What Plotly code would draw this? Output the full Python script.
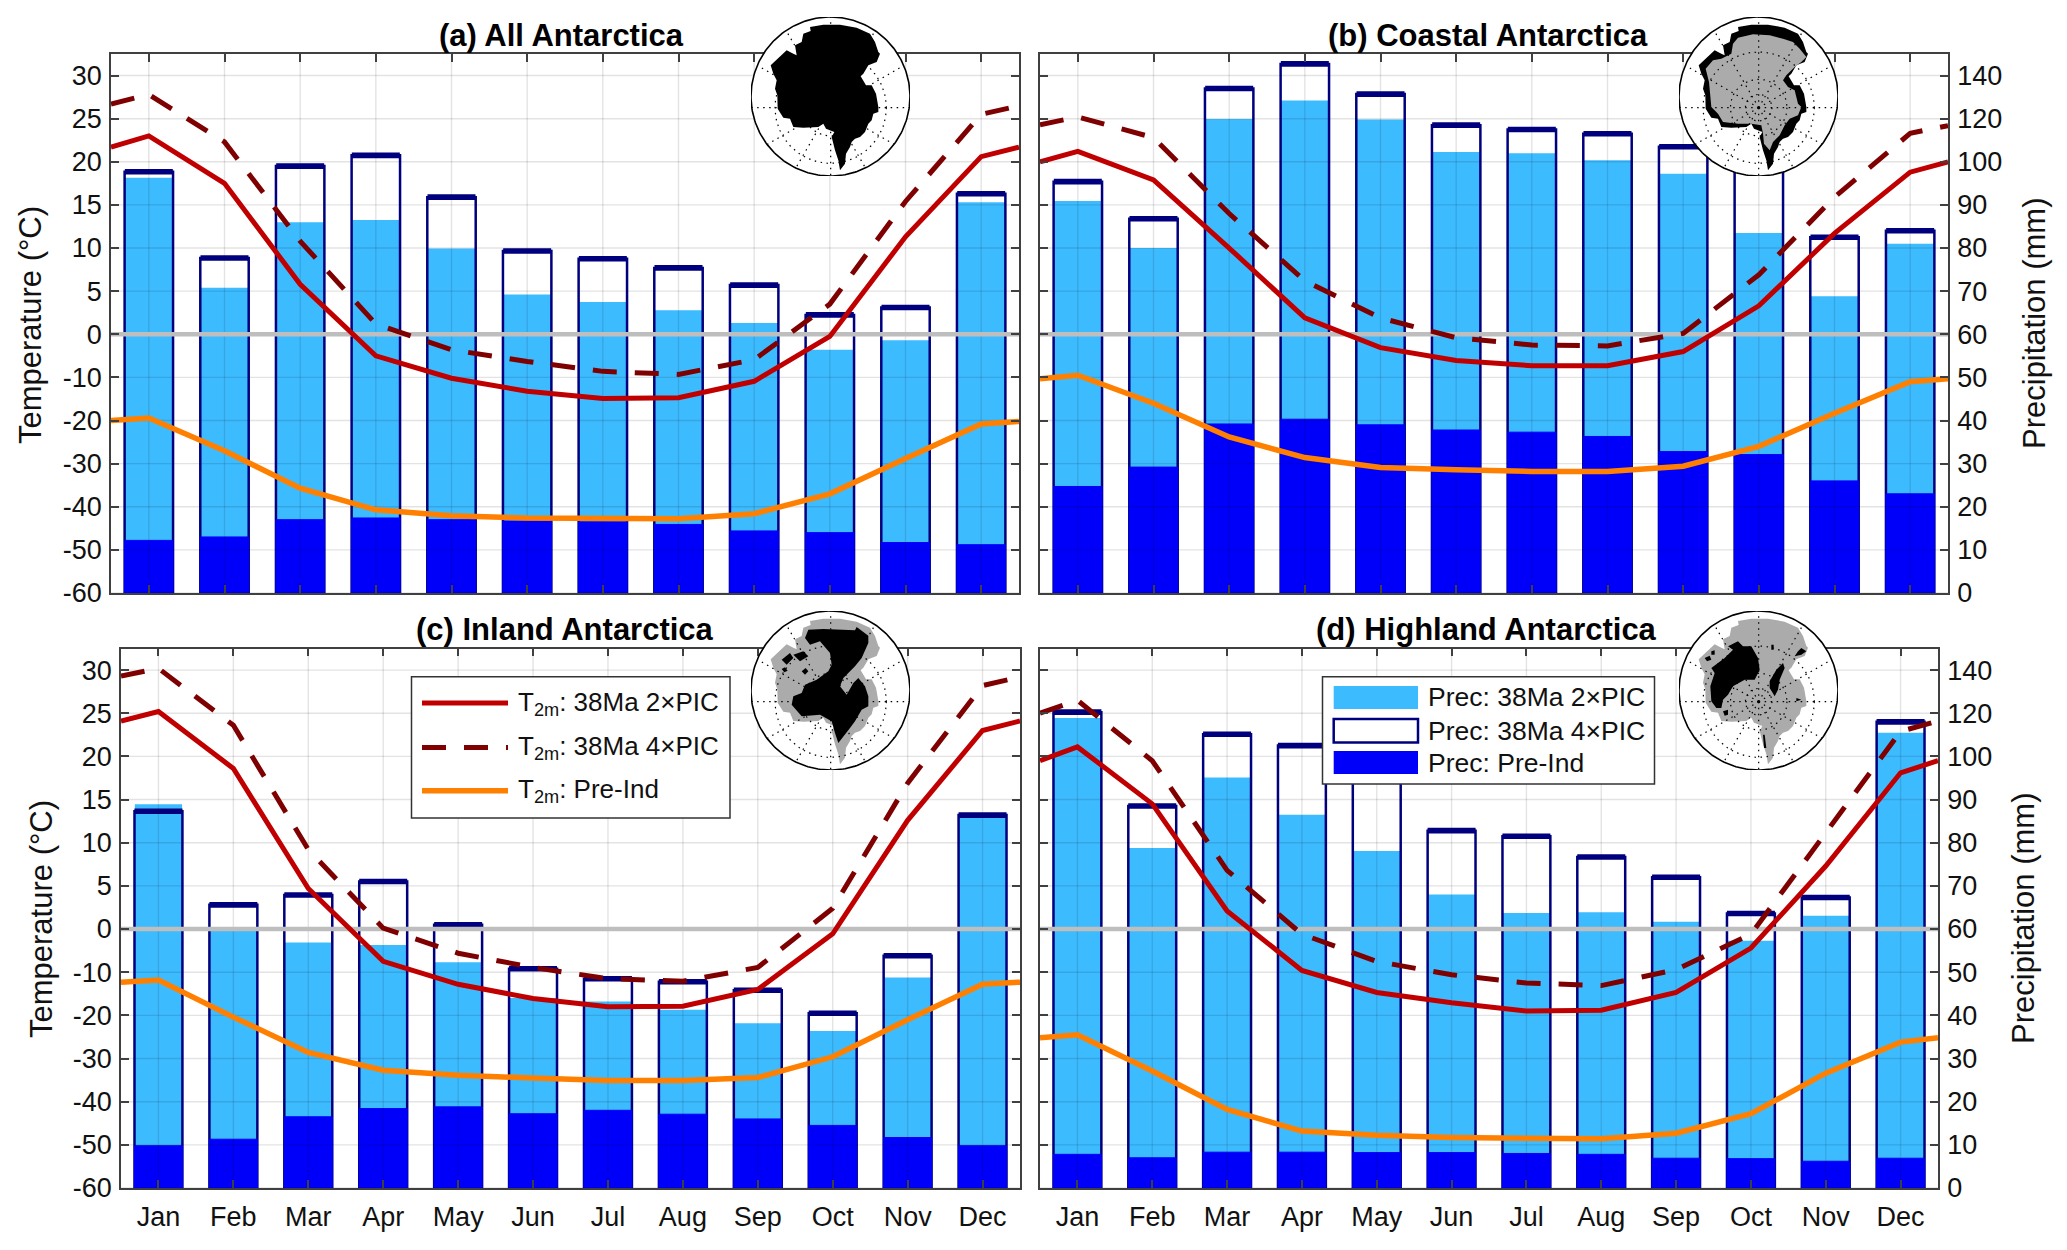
import numpy as np
import plotly.graph_objects as go

W, H = 2067, 1250
# plotly reserves a 15 px strip at the bottom of this figure, so paper fractions refer to 1235 px
PAPER_H = 1235
MONTHS = ["Jan", "Feb", "Mar", "Apr", "May", "Jun", "Jul", "Aug", "Sep", "Oct", "Nov", "Dec"]
X_BAR = list(range(1, 13))
X_LINE = [0.5] + X_BAR + [12.5]
TEMP_TICKS = ["-60", "-50", "-40", "-30", "-20", "-10", "0", "5", "10", "15", "20", "25", "30"]
PREC_TICKS = ["0", "10", "20", "30", "40", "50", "60", "70", "80", "90", "100", "120", "140"]

# Precipitation (mm)
A_P2 = [96.3, 70.8, 86.0, 86.5, 79.9, 69.2, 67.5, 65.6, 62.6, 56.4, 58.6, 90.6]
A_P4 = [97.7, 77.7, 99.0, 103.0, 91.8, 79.3, 77.5, 75.4, 71.4, 64.5, 66.2, 92.6]
A_P0 = [12.2, 13.0, 17.0, 17.4, 17.0, 16.7, 16.5, 15.9, 14.4, 14.0, 11.7, 11.2]
B_P2 = [90.9, 80.0, 119.8, 128.4, 119.6, 104.6, 104.0, 100.7, 97.2, 83.5, 68.8, 81.0]
B_P4 = [95.4, 86.8, 134.0, 145.4, 131.4, 117.0, 115.0, 113.0, 107.0, 105.0, 82.5, 84.0]
B_P0 = [24.7, 29.2, 39.2, 40.3, 39.0, 37.8, 37.3, 36.3, 32.8, 32.1, 26.0, 23.0]
C_P2 = [88.9, 59.8, 56.9, 56.3, 52.3, 44.0, 43.2, 41.3, 38.2, 36.4, 48.8, 85.7]
C_P4 = [87.3, 65.6, 67.9, 71.0, 61.0, 50.8, 48.5, 47.8, 45.8, 40.5, 53.8, 86.4]
C_P0 = [9.8, 11.3, 16.5, 18.4, 18.8, 17.2, 18.0, 17.1, 16.0, 14.5, 11.7, 9.8]
D_P2 = [117.8, 78.8, 95.1, 86.5, 78.1, 68.0, 63.7, 63.9, 61.7, 57.3, 63.1, 111.0]
D_P4 = [120.5, 88.5, 110.3, 105.0, 105.0, 82.8, 81.5, 76.7, 72.0, 63.6, 67.3, 116.0]
D_P0 = [7.8, 7.0, 8.3, 8.3, 8.2, 8.2, 8.0, 7.8, 6.9, 6.8, 6.2, 6.9]

# 2 m temperature (deg C), left edge, Jan..Dec, right edge
A_T2 = [21.7, 23.0, 17.5, 5.8, -5.0, -10.2, -13.2, -14.9, -14.7, -10.9, -0.5, 11.3, 20.6, 21.7]
A_T4 = [26.7, 27.8, 22.3, 10.8, 1.2, -3.6, -6.3, -8.6, -9.3, -5.9, 3.5, 15.4, 25.5, 26.5]
A_T0 = [-20.0, -19.4, -27.0, -35.7, -40.7, -42.1, -42.6, -42.8, -42.8, -41.6, -37.0, -28.8, -20.8, -20.2]
B_T2 = [20.0, 21.2, 17.9, 10.0, 1.9, -3.1, -6.1, -7.3, -7.3, -4.0, 3.3, 11.7, 18.8, 20.0]
B_T4 = [24.3, 25.2, 22.8, 14.0, 6.2, 1.9, -0.8, -2.5, -2.7, 0.1, 6.9, 15.9, 23.3, 24.2]
B_T0 = [-10.3, -9.5, -16.0, -23.8, -28.6, -30.9, -31.4, -31.8, -31.8, -30.6, -26.0, -18.3, -11.0, -10.3]
C_T2 = [24.1, 25.2, 18.6, 4.7, -7.5, -12.8, -16.1, -18.0, -17.9, -14.0, -1.1, 12.6, 23.0, 24.1]
C_T4 = [29.3, 30.2, 23.6, 9.2, 0.1, -5.6, -8.9, -11.5, -12.1, -8.9, 2.4, 16.9, 28.2, 29.2]
C_T0 = [-12.3, -11.8, -20.4, -28.6, -32.7, -33.9, -34.5, -35.1, -35.1, -34.4, -29.6, -21.0, -12.8, -12.3]
D_T2 = [19.5, 21.1, 14.5, 2.1, -9.6, -14.7, -17.1, -19.0, -18.8, -14.7, -4.4, 7.3, 18.1, 19.5]
D_T4 = [25.0, 26.5, 19.5, 6.8, -1.2, -7.5, -10.6, -12.5, -13.1, -9.4, -1.2, 11.1, 22.9, 24.1]
D_T0 = [-25.2, -24.5, -32.9, -41.8, -46.8, -47.8, -48.3, -48.6, -48.6, -47.3, -42.8, -33.4, -26.2, -25.2]

# Map outlines, in units of a 477-wide inset whose circle touches all sides
ICE_X = [177, 217, 267, 317, 357, 372, 382, 387, 377, 352, 337, 329, 345, 362, 375, 382, 382, 367, 362, 352, 342, 327, 312, 302, 297, 285, 282, 267, 262, 252, 242, 250, 225, 217, 202, 157, 127, 117, 97, 80, 79, 72, 77, 67, 59, 92, 107, 127, 137, 132, 152, 157, 179]
ICE_Y = [30, 23, 23, 32, 50, 75, 105, 110, 135, 145, 170, 178, 205, 205, 230, 270, 285, 290, 310, 320, 345, 360, 365, 375, 390, 410, 440, 460, 430, 400, 360, 345, 335, 320, 330, 332, 330, 305, 302, 275, 235, 215, 190, 170, 145, 115, 100, 110, 115, 85, 75, 50, 42]
COAST_X = [177, 222, 272, 312, 342, 362, 382, 367, 347, 322, 312, 327, 347, 357, 367, 357, 332, 317, 302, 282, 272, 255, 252, 247, 217, 177, 132, 117, 97, 92, 90, 80, 102, 127, 157, 162]
COAST_Y = [62, 52, 55, 65, 75, 95, 120, 135, 150, 175, 190, 210, 220, 260, 270, 295, 305, 325, 355, 375, 400, 380, 350, 325, 320, 320, 315, 290, 270, 215, 195, 155, 130, 125, 110, 80]
INLAND_X = [172, 217, 312, 317, 352, 352, 332, 312, 277, 267, 287, 307, 322, 342, 352, 352, 332, 312, 297, 277, 262, 252, 242, 207, 152, 122, 127, 152, 162, 197, 232, 242, 237, 207, 177, 162, None,
            92, 117, 127, 107, None, 127, 157, 172, 147, None, 152, 164, 172, 162, None, 92, 102, 110, 100]
INLAND_Y = [56, 54, 58, 48, 74, 96, 141, 166, 201, 226, 251, 216, 201, 226, 256, 286, 296, 331, 351, 376, 396, 366, 331, 311, 316, 281, 256, 246, 221, 206, 181, 161, 126, 91, 101, 81, None,
            146, 126, 141, 161, None, 131, 121, 136, 151, None, 181, 171, 181, 191, None, 174, 169, 179, 184]
HIGH_X = [147, 177, 192, 217, 237, 242, 227, 197, 162, 147, 132, 127, 112, 97, 94, 107, 97, 137, 162, None,
          312, 317, 302, 297, 287, 272, 272, 292, None, 357, 367, 382, 367, 347, None, 77, 92, 97, 84, None, 97, 107, 107, 97, None,
          132, 147, 147, 137, None, 352, 367, 352, None, 277, 284, 284, 277, None, 252, 257, 262, 255]
HIGH_Y = [106, 91, 106, 106, 141, 176, 206, 206, 226, 251, 266, 291, 291, 271, 226, 186, 171, 141, 116, None,
          156, 171, 206, 236, 256, 231, 211, 176, None, 121, 111, 121, 131, 136, None, 141, 134, 146, 151, None, 121, 118, 131, 131, None,
          301, 296, 311, 314, None, 261, 266, 271, None, 101, 101, 116, 116, None, 371, 371, 411, 411]
POLE = [239, 272]
PARALLEL_RADII = [167, 85, 40]
MERIDIAN_STEP_DEG = 30


def t_axis(values):
    return [(v + 60) / 10 if v < 0 else 6 + v / 5 for v in values]


def p_axis(values):
    return [v / 10 if v <= 100 else 10 + (v - 100) / 20 for v in values]


fx = lambda px: px / W
fy = lambda py: 1 - py / PAPER_H

C_LIGHT, C_BLUE, C_NAVY = "#3DBBFF", "#0000FA", "#00007F"
C_RED, C_DRED, C_ORANGE = "#C00000", "#7F0000", "#FF8000"
DASH = "24px,18px"
FONT = "Liberation Sans"
TICK_SIZE = 27

PANELS = [
    dict(title="(a) All Antarctica", box=(111, 1019, 54, 593), tc=561, p=(A_P2, A_P4, A_P0), t=(A_T2, A_T4, A_T0), left=True, bottom=False),
    dict(title="(b) Coastal Antarctica", box=(1040, 1948, 54, 593), tc=1488, p=(B_P2, B_P4, B_P0), t=(B_T2, B_T4, B_T0), left=False, bottom=False),
    dict(title="(c) Inland Antarctica", box=(121, 1020, 648.5, 1188), tc=565, p=(C_P2, C_P4, C_P0), t=(C_T2, C_T4, C_T0), left=True, bottom=True),
    dict(title="(d) Highland Antarctica", box=(1040, 1938, 648.5, 1188), tc=1486, p=(D_P2, D_P4, D_P0), t=(D_T2, D_T4, D_T0), left=False, bottom=True),
]

fig = go.Figure()
layout = {}
annots = []
shapes = []

for i, pan in enumerate(PANELS, start=1):
    xa, ya = f"x{i}", f"y{i}"
    x0, x1, y0, y1 = pan["box"]
    common = dict(xaxis=xa, yaxis=ya, showlegend=False)
    p2, p4, p0 = pan["p"]
    fig.add_trace(go.Bar(x=X_BAR, y=p_axis(p2), width=0.63, name="Prec: 38Ma 2×PIC",
                         marker=dict(color=C_LIGHT, line=dict(width=0)), **common))
    fig.add_trace(go.Bar(x=X_BAR, y=p_axis(p4), width=0.64, name="Prec: 38Ma 4×PIC",
                         marker=dict(color="rgba(0,0,0,0)", line=dict(color=C_NAVY, width=2.5)),
                         error_y=dict(type="data", array=[0.001] * 12, color=C_NAVY, thickness=5.5, width=24), **common))
    fig.add_trace(go.Bar(x=X_BAR, y=p_axis(p0), width=0.64, name="Prec: Pre-Ind",
                         marker=dict(color=C_BLUE, line=dict(color=C_BLUE, width=1)), **common))
    gx, gy = [], []
    for m in X_BAR:
        gx += [m, m, None]
        gy += [0, 12.5, None]
    for k in range(13):
        gx += [0.5, 12.5, None]
        gy += [k, k, None]
    fig.add_trace(go.Scatter(x=gx, y=gy, mode="lines", line=dict(color="rgba(0,0,0,0.11)", width=1.4),
                             hoverinfo="skip", **common))
    fig.add_trace(go.Scatter(x=[0.5, 12.5], y=[6, 6], mode="lines", line=dict(color="#BEBEBE", width=4.5),
                             hoverinfo="skip", **common))
    t2, t4, t0 = pan["t"]
    fig.add_trace(go.Scatter(x=X_LINE, y=t_axis(t4), mode="lines", name="T2m: 38Ma 4×PIC",
                             line=dict(color=C_DRED, width=5, dash=DASH), **common))
    fig.add_trace(go.Scatter(x=X_LINE, y=t_axis(t2), mode="lines", name="T2m: 38Ma 2×PIC",
                             line=dict(color=C_RED, width=5), **common))
    fig.add_trace(go.Scatter(x=X_LINE, y=t_axis(t0), mode="lines", name="T2m: Pre-Ind",
                             line=dict(color=C_ORANGE, width=5.5), **common))

    axis_font = dict(family=FONT, size=TICK_SIZE, color="#111111")
    layout[f"xaxis{i}"] = dict(domain=[fx(x0), fx(x1)], anchor=ya, range=[0.5, 12.5], tickmode="array",
                               tickvals=X_BAR, ticktext=MONTHS, showticklabels=pan["bottom"], ticks="inside",
                               ticklen=8, tickwidth=1.5, tickcolor="#404040", mirror="ticks", showline=True,
                               linecolor="#404040", linewidth=1.5, showgrid=False, zeroline=False,
                               tickfont=axis_font, layer="above traces", ticklabelstandoff=4)
    layout[f"yaxis{i}"] = dict(domain=[fy(y1), fy(y0)], anchor=xa, range=[0, 12.5], tickmode="array",
                               tickvals=list(range(13)), ticktext=TEMP_TICKS if pan["left"] else PREC_TICKS,
                               side="left" if pan["left"] else "right", ticks="inside", ticklen=8, tickwidth=1.5,
                               tickcolor="#404040", mirror="ticks", showline=True, linecolor="#404040",
                               linewidth=1.5, showgrid=False, zeroline=False, tickfont=axis_font,
                               layer="above traces", ticklabelstandoff=2)
    annots.append(dict(text=f"<b>{pan['title']}</b>", x=fx(pan["tc"]), y=fy(35 if i < 3 else 629), xref="paper", yref="paper",
                       showarrow=False, xanchor="center", yanchor="middle", font=dict(family=FONT, size=31, color="black")))

for txt, px_, py_ in [("Temperature (°C)", 31, 325), ("Temperature (°C)", 41, 919),
                      ("Precipitation (mm)", 2035, 323), ("Precipitation (mm)", 2024, 918)]:
    annots.append(dict(text=txt, x=fx(px_), y=fy(py_), xref="paper", yref="paper", showarrow=False, textangle=-90,
                       xanchor="center", yanchor="middle", font=dict(family=FONT, size=31, color="#111111")))

INSETS = [
    dict(left=751, top=17, black=[(ICE_X, ICE_Y)], gray=None),
    dict(left=1679, top=17, black=[(ICE_X, ICE_Y)], gray=(COAST_X, COAST_Y)),
    dict(left=751, top=611, black=[(INLAND_X, INLAND_Y)], gray=(ICE_X, ICE_Y), under=True),
    dict(left=1679, top=611, black=[(HIGH_X, HIGH_Y)], gray=(ICE_X, ICE_Y), under=True),
]
SIZE = 159
ang = np.linspace(0, 2 * np.pi, 241)
R = 238.5
for j, ins in enumerate(INSETS, start=5):
    xa, ya = f"x{j}", f"y{j}"
    common = dict(xaxis=xa, yaxis=ya, showlegend=False, hoverinfo="skip")
    cx = (R + R * np.cos(ang)).tolist()
    cy = (R + R * np.sin(ang)).tolist()
    fig.add_trace(go.Scatter(x=cx, y=cy, mode="lines", fill="toself", fillcolor="white",
                             line=dict(width=0), **common))
    groups = []
    if ins.get("under"):
        groups.append((ins["gray"], "#ABABAB"))
        groups += [(b, "black") for b in ins["black"]]
    else:
        groups += [(b, "black") for b in ins["black"]]
        if ins["gray"]:
            groups.append((ins["gray"], "#ABABAB"))
    for (gx_, gy_), col in groups:
        fig.add_trace(go.Scatter(x=gx_, y=gy_, mode="lines", fill="toself", fillcolor=col,
                                 line=dict(width=0, color=col), **common))
    lx, ly = [], []
    for deg in range(0, 360, MERIDIAN_STEP_DEG):
        dx, dy = np.cos(np.radians(deg)), np.sin(np.radians(deg))
        ox, oy = POLE[0] - R, POLE[1] - R
        b = ox * dx + oy * dy
        t = -b + np.sqrt(b * b - (ox * ox + oy * oy - R * R))
        lx += [POLE[0], POLE[0] + t * dx, None]
        ly += [POLE[1], POLE[1] + t * dy, None]
    for r in PARALLEL_RADII:
        lx += (POLE[0] + r * np.cos(ang)).tolist() + [None]
        ly += (POLE[1] + r * np.sin(ang)).tolist() + [None]
    fig.add_trace(go.Scatter(x=lx, y=ly, mode="lines", line=dict(color="black", width=1.2, dash="1.5px,4.5px"), **common))
    fig.add_trace(go.Scatter(x=cx, y=cy, mode="lines", line=dict(color="black", width=1.6), cliponaxis=False, **common))
    layout[f"xaxis{j}"] = dict(domain=[fx(ins["left"]), fx(ins["left"] + SIZE)], anchor=ya, range=[0, 477], visible=False, fixedrange=True)
    layout[f"yaxis{j}"] = dict(domain=[fy(ins["top"] + SIZE), fy(ins["top"])], anchor=xa, range=[477, 0], visible=False, fixedrange=True)


def pbox(x0, x1, y0, y1, **kw):
    shapes.append(dict(type="rect", xref="paper", yref="paper", x0=fx(x0), x1=fx(x1), y0=fy(y1), y1=fy(y0), layer="above", **kw))


def pline(x0, x1, y, **kw):
    shapes.append(dict(type="line", xref="paper", yref="paper", x0=fx(x0), x1=fx(x1), y0=fy(y), y1=fy(y), layer="above", **kw))


def ltext(txt, x, y, size):
    annots.append(dict(text=txt, x=fx(x), y=fy(y), xref="paper", yref="paper", showarrow=False, xanchor="left",
                       yanchor="middle", font=dict(family=FONT, size=size, color="#111111")))


pbox(411.5, 730, 676.7, 818, fillcolor="white", line=dict(color="#333333", width=1.5))
pline(422, 508, 703, line=dict(color=C_RED, width=5))
pline(422, 508, 747.6, line=dict(color=C_DRED, width=5, dash=DASH))
pline(422, 508, 790.7, line=dict(color=C_ORANGE, width=5.5))
ltext("T<sub>2m</sub>: 38Ma 2×PIC", 516, 703, 26)
ltext("T<sub>2m</sub>: 38Ma 4×PIC", 516, 747.6, 26)
ltext("T<sub>2m</sub>: Pre-Ind", 516, 790.7, 26)

pbox(1322.5, 1654.5, 676.7, 784, fillcolor="white", line=dict(color="#333333", width=1.5))
pbox(1333.7, 1418, 686, 709, fillcolor=C_LIGHT, line=dict(width=0))
pbox(1333.7, 1418, 719, 742.5, fillcolor="white", line=dict(color=C_NAVY, width=2.5))
pbox(1333.7, 1418, 751, 774, fillcolor=C_BLUE, line=dict(width=0))
ltext("Prec: 38Ma 2×PIC", 1426, 697.4, 26.5)
ltext("Prec: 38Ma 4×PIC", 1426, 730.6, 26.5)
ltext("Prec: Pre-Ind", 1426, 762.5, 26.5)

fig.update_layout(width=W, height=H, margin=dict(l=0, r=0, t=0, b=0), autosize=False, barmode="overlay",
                  paper_bgcolor="white", plot_bgcolor="rgba(0,0,0,0)", showlegend=False, annotations=annots, shapes=shapes,
                  font=dict(family=FONT), **layout)
fig.write_html("out.html", post_script="document.body.style.margin='0';", config={"displayModeBar": False})
